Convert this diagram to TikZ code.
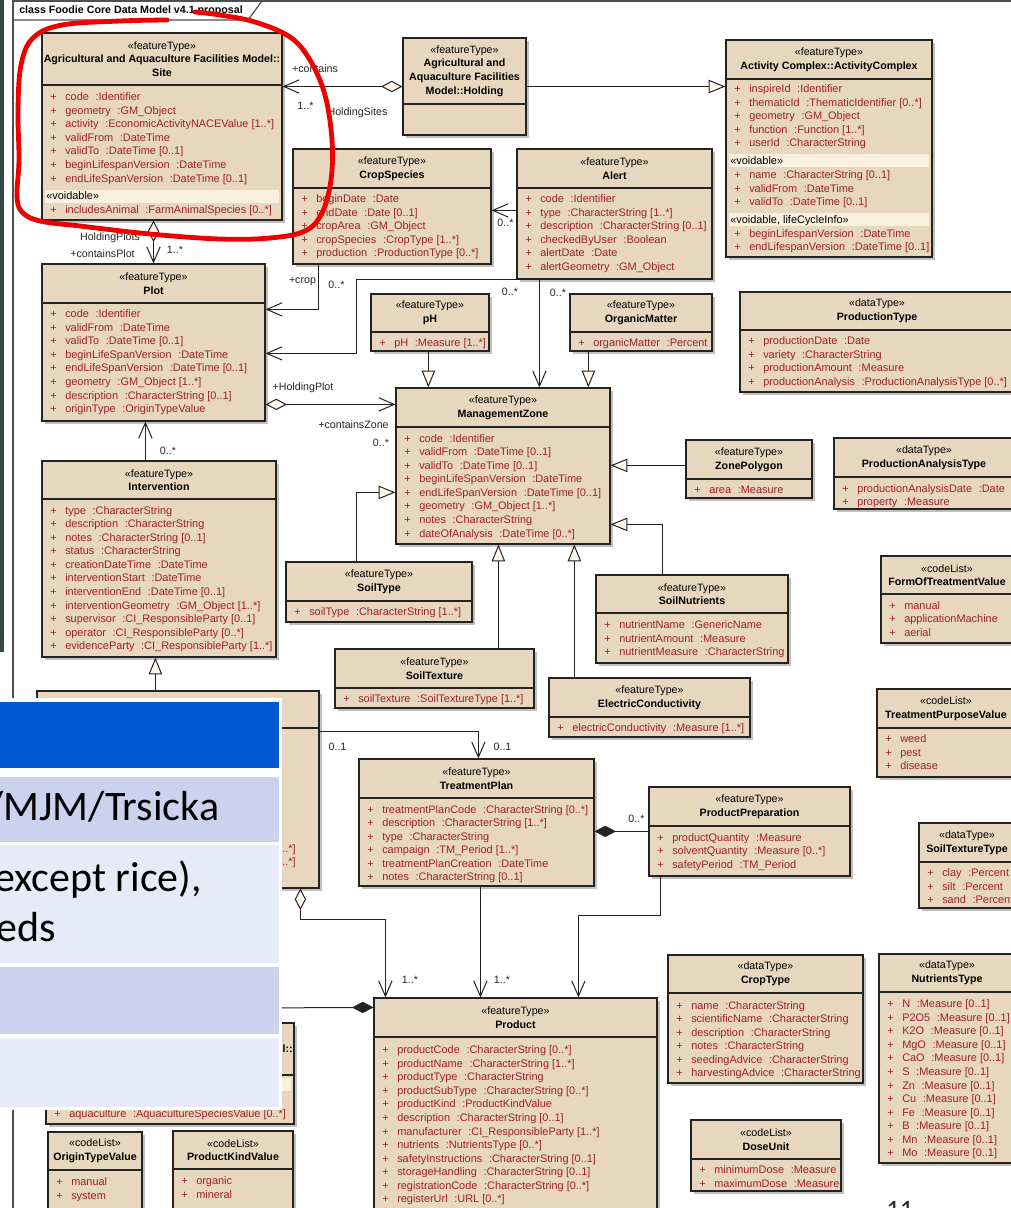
\documentclass[tikz,border=0pt]{standalone}
\usepackage{fontspec}
\setmainfont{Liberation Sans}
\newfontfamily\calibrifont{Carlito}
\usetikzlibrary{arrows.meta,calc,fit}

\definecolor{boxfill}{RGB}{230,215,190}
\definecolor{bandfill}{RGB}{250,240,223}
\definecolor{attrc}{RGB}{158,32,38}
\definecolor{linec}{RGB}{35,35,35}
\definecolor{shadowc}{RGB}{192,192,192}
\definecolor{diafill}{RGB}{255,248,235}
\definecolor{ovblue}{RGB}{0,89,208}
\definecolor{ovdark}{RGB}{202,210,238}
\definecolor{ovlight}{RGB}{231,235,247}
\definecolor{stripc}{RGB}{55,70,66}
\definecolor{loopred}{RGB}{238,0,0}

\newcommand\umlfont{\fontsize{8}{10.2}\selectfont}
\newcommand\umlattrfont{\fontsize{8.2}{10.2}\selectfont}

\tikzset{
  ubox/.style={draw=linec, line width=0.9pt, fill=boxfill, inner sep=0pt, rectangle},
  hdr/.style={align=center, font=\umlfont, inner sep=0pt, text=black},
  attr/.style={font=\umlattrfont, text=attrc, inner sep=0pt},
  band/.style={font=\umlattrfont, text=black, inner sep=0pt},
  lbl/.style={font=\umlfont, text=black!85, inner sep=0pt},
  conn/.style={draw=linec, line width=0.75pt},
  nav/.style={conn, -{Straight Barb[length=11.5pt,width=10pt]}},
  gen/.style={conn, -{Triangle[length=12.5pt,width=10pt,fill=diafill]}},
  aggnav/.style={conn, {Diamond[length=16pt,width=8.5pt,fill=diafill]}-{Straight Barb[length=11.5pt,width=10pt]}},
  comp/.style={conn, {Diamond[length=16pt,width=8.5pt,fill=linec]}-},
}

% #1 name, #2 x1, #3 y1, #4 x2, #5 y2, #6 separator y, #7 header
\newcommand\umlbox[7]{%
  \fill[shadowc] (#2+3,#3+3) rectangle (#4+3,#5+3);
  \node[ubox, fit={(#2,#3) (#4,#5)}] (#1) {};
  \draw[linec, line width=0.9pt] (#2,#6) -- (#4,#6);
  \node[hdr] (#1-h) at ({(#2+#4)/2},{(#3+#6)/2}) {#7};
}
% #1 prefix, #2 x1, #3 first row centre, #4 list name/type
\newcommand\umlattrs[4]{%
  \foreach \attrN/\attrT [count=\attrI] in {#4} {
    \node[attr, anchor=base west] (#1-p\attrI) at (#2+8,{#3+(\attrI-1)*13.57+3.6}) {+};
    \node[attr, anchor=base west] (#1-a\attrI) at (#2+23,{#3+(\attrI-1)*13.57+3.6}) {\attrN\hspace{5pt}:\attrT};
  }}
\newcommand\umlvals[4]{%
  \foreach \attrN [count=\attrI] in {#4} {
    \node[attr, anchor=base west] (#1-p\attrI) at (#2+8,{#3+(\attrI-1)*13.57+3.6}) {+};
    \node[attr, anchor=base west] (#1-a\attrI) at (#2+23,{#3+(\attrI-1)*13.57+3.6}) {\attrN};
  }}
% #1 name, #2 x1, #3 x2, #4 centre y, #5 text
\newcommand\umlband[5]{%
  \fill[bandfill] (#2+3,#4-6.5) rectangle (#3-3,#4+6.5);
  \node[band, anchor=base west] (#1) at (#2+4,#4+3.6) {#5};
}

\begin{document}
\begin{tikzpicture}[x=0.75pt,y=-0.75pt]
\useasboundingbox (0,0) rectangle (1011,1208);
\clip (0,0) rectangle (1011,1208);
\fill[white] (0,0) rectangle (1011,1208);
\fill[stripc] (0,0) rectangle (3.5,652);

% frame
\draw[linec!80, line width=0.9pt] (13,1215) -- (13,1) -- (1015,1);
\draw[linec!80, line width=0.9pt] (13,20) -- (248,20) -- (262,1);
\node[anchor=base west, font=\fontsize{8}{10}\selectfont\bfseries, inner sep=0pt] (title) at (19,13.8) {class Foodie Core Data Model v4.1 proposal};

% boxes
\umlbox{site}{42}{33}{282}{220}{85}{«featureType»\\\textbf{Agricultural and Aquaculture Facilities Model::}\\\textbf{Site}}
\umlattrs{site-g1}{42}{97}{code/Identifier, geometry/GM\_Object, activity/EconomicActivityNACEValue [1..*], validFrom/DateTime, validTo/DateTime [0..1], beginLifespanVersion/DateTime, endLifeSpanVersion/DateTime [0..1]}
\umlband{site-v}{42}{282}{196}{«voidable»}
\umlattrs{site-g2}{42}{209.5}{includesAnimal/FarmAnimalSpecies [0..*]}

\umlbox{holding}{403}{38}{526}{135}{104}{«featureType»\\\textbf{Agricultural and}\\\textbf{Aquaculture Facilities}\\\textbf{Model::Holding}}

\umlbox{actcx}{726}{40}{932}{257}{79}{«featureType»\\\textbf{Activity Complex::ActivityComplex}}
\umlattrs{actcx-g1}{726}{89}{inspireId/Identifier, thematicId/ThematicIdentifier [0..*], geometry/GM\_Object, function/Function [1..*], userId/CharacterString}
\umlband{actcx-v1}{726}{932}{160.5}{«voidable»}
\umlattrs{actcx-g2}{726}{175}{name/CharacterString [0..1], validFrom/DateTime, validTo/DateTime [0..1]}
\umlband{actcx-v2}{726}{932}{219.5}{«voidable, lifeCycleInfo»}
\umlattrs{actcx-g3}{726}{233.5}{beginLifespanVersion/DateTime, endLifespanVersion/DateTime [0..1]}

\umlbox{cropsp}{293}{149}{491}{264}{188}{«featureType»\\\textbf{CropSpecies}}
\umlattrs{cropsp-g}{293}{199}{beginDate/Date, endDate/Date [0..1], cropArea/GM\_Object, cropSpecies/CropType [1..*], production/ProductionType [0..*]}

\umlbox{alert}{517}{149}{712}{279}{188}{«featureType»\\\textbf{Alert}}
\umlattrs{alert-g}{517}{199}{code/Identifier, type/CharacterString [1..*], description/CharacterString [0..1], checkedByUser/Boolean, alertDate/Date, alertGeometry/GM\_Object}

\umlbox{plot}{42}{264}{265}{421}{303}{«featureType»\\\textbf{Plot}}
\umlattrs{plot-g}{42}{314}{code/Identifier, validFrom/DateTime, validTo/DateTime [0..1], beginLifeSpanVersion/DateTime, endLifeSpanVersion/DateTime [0..1], geometry/GM\_Object [1..*], description/CharacterString [0..1], originType/OriginTypeValue}

\umlbox{interv}{42}{461}{276}{657}{499}{«featureType»\\\textbf{Intervention}}
\umlattrs{interv-g}{42}{510.5}{type/CharacterString, description/CharacterString, notes/CharacterString [0..1], status/CharacterString, creationDateTime/DateTime, interventionStart/DateTime, interventionEnd/DateTime [0..1], interventionGeometry/GM\_Object [1..*], supervisor/CI\_ResponsibleParty [0..1], operator/CI\_ResponsibleParty [0..*], evidenceParty/CI\_ResponsibleParty [1..*]}

\umlbox{ph}{371}{294}{489}{351}{332}{«featureType»\\\textbf{pH}}
\umlattrs{ph-g}{371}{343}{pH/Measure [1..*]}

\umlbox{om}{570}{294}{712}{351}{332}{«featureType»\\\textbf{OrganicMatter}}
\umlattrs{om-g}{570}{343}{organicMatter/Percent}

\umlbox{mz}{396}{388}{610}{544}{427}{«featureType»\\\textbf{ManagementZone}}
\umlattrs{mz-g}{396}{438.5}{code/Identifier, validFrom/DateTime [0..1], validTo/DateTime [0..1], beginLifeSpanVersion/DateTime, endLifeSpanVersion/DateTime [0..1], geometry/GM\_Object [1..*], notes/CharacterString, dateOfAnalysis/DateTime [0..*]}

\umlbox{prodtype}{740}{292}{1014}{392}{330}{«dataType»\\\textbf{ProductionType}}
\umlattrs{prodtype-g}{740}{341}{productionDate/Date, variety/CharacterString, productionAmount/Measure, productionAnalysis/ProductionAnalysisType [0..*]}

\umlbox{zp}{686}{440}{812}{498}{479}{«featureType»\\\textbf{ZonePolygon}}
\umlattrs{zp-g}{686}{489.5}{area/Measure}

\umlbox{pat}{834}{438}{1014}{509}{477}{«dataType»\\\textbf{ProductionAnalysisType}}
\umlattrs{pat-g}{834}{488.5}{productionAnalysisDate/Date, property/Measure}

\umlbox{fotv}{881}{556}{1013}{643}{594}{«codeList»\\\textbf{FormOfTreatmentValue}}
\umlvals{fotv-g}{881}{605.5}{manual, applicationMachine, aerial}

\umlbox{soiltype}{286}{562}{472}{622}{601}{«featureType»\\\textbf{SoilType}}
\umlattrs{soiltype-g}{286}{611.5}{soilType/CharacterString [1..*]}

\umlbox{soilnut}{596}{575}{788}{663}{613}{«featureType»\\\textbf{SoilNutrients}}
\umlattrs{soilnut-g}{596}{625}{nutrientName/GenericName, nutrientAmount/Measure, nutrientMeasure/CharacterString}

\umlbox{soiltex}{335}{649}{534}{708}{688}{«featureType»\\\textbf{SoilTexture}}
\umlattrs{soiltex-g}{335}{699}{soilTexture/SoilTextureType [1..*]}

\umlbox{ec}{549}{678}{750}{737}{717}{«featureType»\\\textbf{ElectricConductivity}}
\umlattrs{ec-g}{549}{728}{electricConductivity/Measure [1..*]}

\umlbox{tplan}{359}{759}{594}{886}{798}{«featureType»\\\textbf{TreatmentPlan}}
\umlattrs{tplan-g}{359}{809.5}{treatmentPlanCode/CharacterString [0..*], description/CharacterString [1..*], type/CharacterString, campaign/TM\_Period [1..*], treatmentPlanCreation/DateTime, notes/CharacterString [0..1]}

\umlbox{pprep}{649}{787}{850}{876}{826}{«featureType»\\\textbf{ProductPreparation}}
\umlattrs{pprep-g}{649}{837.5}{productQuantity/Measure, solventQuantity/Measure [0..*], safetyPeriod/TM\_Period}

\umlbox{tpv}{877}{689}{1015}{777}{728}{«codeList»\\\textbf{TreatmentPurposeValue}}
\umlvals{tpv-g}{877}{739}{weed, pest, disease}

\umlbox{stt}{919}{823}{1015}{908}{862}{«dataType»\\\textbf{SoilTextureType}}
\umlattrs{stt-g}{919}{873}{clay/Percent, silt/Percent, sand/Percent}

\umlbox{croptype}{668}{955}{863}{1083}{993}{«dataType»\\\textbf{CropType}}
\umlattrs{croptype-g}{668}{1005.5}{name/CharacterString, scientificName/CharacterString, description/CharacterString, notes/CharacterString, seedingAdvice/CharacterString, harvestingAdvice/CharacterString}

\umlbox{nutt}{879}{954}{1015}{1163}{992}{«dataType»\\\textbf{NutrientsType}}
\umlattrs{nutt-g}{879}{1004}{N/Measure [0..1], P2O5/Measure [0..1], K2O/Measure [0..1], MgO/Measure [0..1], CaO/Measure [0..1], S/Measure [0..1], Zn/Measure [0..1], Cu/Measure [0..1], Fe/Measure [0..1], B/Measure [0..1], Mn/Measure [0..1], Mo/Measure [0..1]}

\umlbox{dose}{691}{1120}{841}{1191}{1159}{«codeList»\\\textbf{DoseUnit}}
\umlattrs{dose-g}{691}{1170}{minimumDose/Measure, maximumDose/Measure}

\umlbox{product}{374}{998}{657}{1235}{1037}{«featureType»\\\textbf{Product}}
\umlattrs{product-g}{374}{1050}{productCode/CharacterString [0..*], productName/CharacterString [1..*], productType/CharacterString, productSubType/CharacterString [0..*], productKind/ProductKindValue, description/CharacterString [0..1], manufacturer/CI\_ResponsibleParty [1..*], nutrients/NutrientsType [0..*], safetyInstructions/CharacterString [0..1], storageHandling/CharacterString [0..1], registrationCode/CharacterString [0..*], registerUrl/URL [0..*]}

% boxes partly hidden by the slide overlay
\umlbox{hida}{37}{691}{319}{888}{728}{}
\node[attr, anchor=base east] (hida-t1) at (296,852) {[1..*]};
\node[attr, anchor=base east] (hida-t2) at (296,865.5) {[0..*]};

\umlbox{hidb}{46}{1023}{294}{1124}{1075}{}
\node[hdr, anchor=base east, font=\umlfont\bfseries] (hidb-t) at (293,1052.5) {Model::};
\fill[bandfill] (49,1078) rectangle (291,1091);
\umlattrs{hidb-g}{46}{1114}{aquaculture/AquacultureSpeciesValue [0..*]}

\umlbox{otv}{48}{1132}{142}{1240}{1170}{«codeList»\\\textbf{OriginTypeValue}}
\umlvals{otv-g}{48}{1182}{manual, system}

\umlbox{pkv}{173}{1131}{293}{1240}{1169}{«codeList»\\\textbf{ProductKindValue}}
\umlvals{pkv-g}{173}{1181}{organic, mineral}

% connectors
\draw[aggnav] (holding.west) -- (site.east |- holding.west);
\draw[gen] (holding.east) -- (actcx.west |- holding.east);
\draw[aggnav] (site.south -| plot.north) -- (plot.north);
\draw[nav] ($(cropsp.south west)+(26,0)$) |- ($(plot.north east)+(0,46)$);
\draw[nav] ($(alert.north west)+(0,62)$) -- ($(cropsp.north east)+(0,62)$);
\coordinate (alertS) at ($(alert.south west)+(23,0)$);
\draw[nav] (alertS) -- ++(-183,0) |- ($(plot.north east)+(0,90)$);
\draw[nav] (alertS) -- (mz.north -| alertS);
\draw[aggnav] ($(plot.north east)+(0,141)$) -- ($(mz.north west)+(0,17)$);
\draw[nav] ($(interv.north west)+(104,0)$) -- ($(plot.south west)+(104,0)$);
\draw[gen] ($(hida.north west)+(119,0)$) -- ($(interv.south west)+(114,0)$);
\draw[gen] ($(ph.south west)+(58,0)$) -- ($(mz.north west)+(33,0)$);
\draw[gen] ($(om.south west)+(19,0)$) -- ($(mz.north west)+(193,0)$);
\draw[gen] ($(zp.north west)+(0,26)$) -- ($(mz.north east)+(0,78)$);
\draw[gen] ($(soiltype.north west)+(71,0)$) |- ($(mz.north west)+(0,105)$);
\draw[gen] ($(soilnut.north west)+(67,0)$) |- ($(mz.north east)+(0,137)$);
\draw[gen] ($(soiltex.north west)+(164,0)$) -- ($(mz.south west)+(103,0)$);
\draw[gen] ($(ec.north west)+(26,0)$) -- ($(mz.south west)+(179,0)$);
\draw[nav] ($(hida.north east)+(0,41)$) -| ($(tplan.north west)+(120,0)$);
\draw[comp] ($(tplan.north east)+(0,73)$) -- ($(pprep.north west)+(0,45)$);
\draw[aggnav] ($(hida.south west)+(264,0)$) -- ++(0,31) -| ($(product.north west)+(12,0)$);
\draw[nav] ($(tplan.south west)+(122,0)$) -- ($(product.north west)+(107,0)$);
\draw[nav] ($(pprep.south west)+(12,0)$) -- ++(0,39) -| ($(product.north west)+(205,0)$);
\coordinate (compEnd) at (250,1008);
\draw[comp] ($(product.north west)+(0,10)$) -- (compEnd);

% connector labels
\node[lbl] (l-contains) at (315,69) {+contains};
\node[lbl] (l-hs-m) at (305.5,106) {1..*};
\node[lbl] (l-hs) at (357.5,113) {HoldingSites};
\node[lbl] (l-hp) at (110,237.5) {HoldingPlots};
\node[lbl] (l-cp) at (102.5,254) {+containsPlot};
\node[lbl] (l-cp-m) at (175,250) {1..*};
\node[lbl] (l-crop) at (302.5,282) {+crop};
\node[lbl] (l-crop-m) at (336.5,285) {0..*};
\node[lbl] (l-alcs-m) at (505.5,223) {0..*};
\node[lbl] (l-alp-m) at (510,292) {0..*};
\node[lbl] (l-almz-m) at (558,293) {0..*};
\node[lbl] (l-hplot) at (303,388) {+HoldingPlot};
\node[lbl] (l-cz) at (353.5,424.5) {+containsZone};
\node[lbl] (l-cz-m) at (381,443) {0..*};
\node[lbl] (l-int-m) at (168,451) {0..*};
\node[lbl] (l-tp1) at (337.5,747) {0..1};
\node[lbl] (l-tp2) at (502.5,747) {0..1};
\node[lbl] (l-pp-m) at (636.5,819) {0..*};
\node[lbl] (l-pr1) at (410,980) {1..*};
\node[lbl] (l-pr2) at (502,980) {1..*};

% slide overlay
\fill[white] (-5,698) rectangle (282,1110);
\fill[ovblue] (-5,702) rectangle (279,768);
\fill[ovdark] (-5,777) rectangle (279,842);
\fill[ovlight] (-5,845) rectangle (279,963);
\fill[ovdark] (-5,967) rectangle (279,1034);
\fill[ovlight] (-5,1038) rectangle (279,1107);
\node[font=\calibrifont\fontsize{31.5}{37}\selectfont, anchor=base east, inner sep=0pt] (ov-t1) at (219.5,820) {/MJM/Trsicka};
\node[font=\calibrifont\fontsize{31.5}{37}\selectfont, anchor=base west, inner sep=0pt] (ov-t2) at (-6,891) {except rice),};
\node[font=\calibrifont\fontsize{31.5}{37}\selectfont, anchor=base west, inner sep=0pt] (ov-t3) at (-4,941) {eds};

\node[font=\calibrifont\fontsize{20}{24}\selectfont, anchor=north west, inner sep=0pt, text=black!85] (pgnum) at (886,1201) {11};

% hand-drawn red loop
\draw[loopred, line width=3.6pt, line cap=round, line join=round] plot[smooth, tension=0.6] coordinates {(167,20) (120,21) (62,25) (33,38) (21,65) (18,110) (19,160) (17,196) (22,212) (40,221) (80,226) (150,234) (220,239) (270,238) (305,231) (322,213) (331,180) (332,140) (325,95) (310,60) (290,37) (255,22) (220,15) (195,12)};
\end{tikzpicture}
\end{document}
